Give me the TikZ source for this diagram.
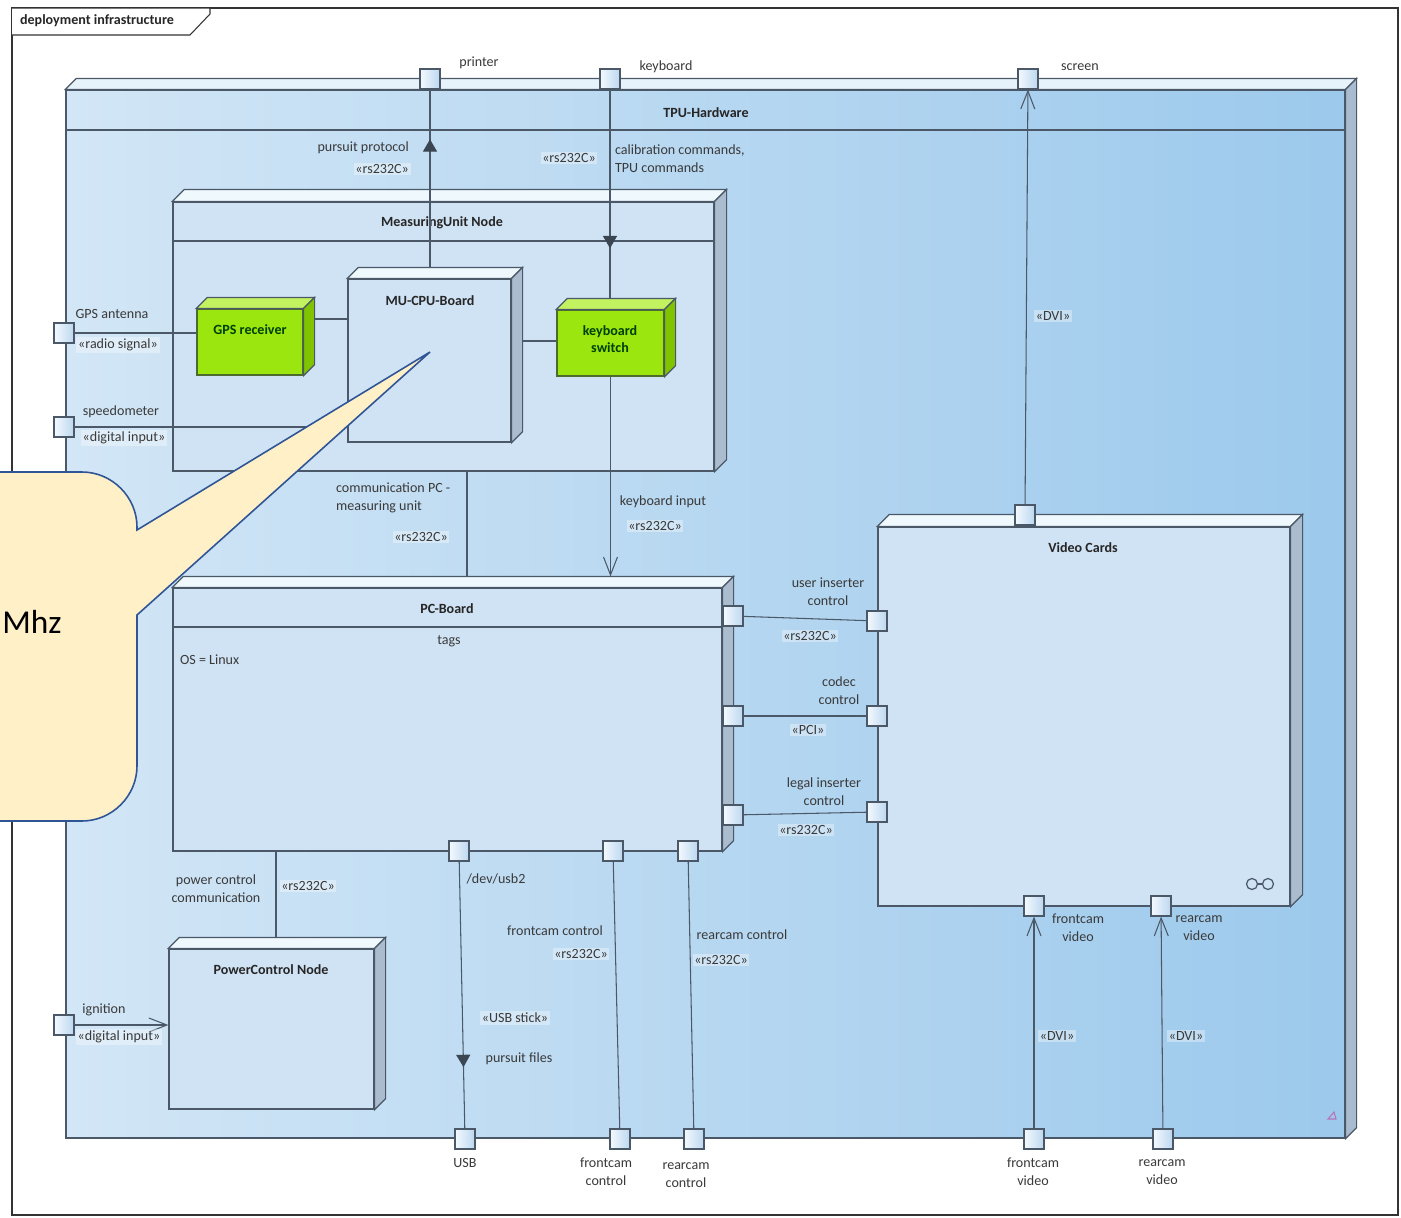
\documentclass[tikz,border=0pt]{standalone}
\usepackage{fontspec}
\setmainfont{Carlito}
\usetikzlibrary{arrows.meta,fit,decorations.markings,calc}
\definecolor{lnc}{HTML}{4A5868}
\definecolor{txtc}{HTML}{3A3A3A}
\definecolor{tpuL}{HTML}{D2E6F6}
\definecolor{tpuR}{HTML}{9CC9EC}
\definecolor{tputop}{HTML}{E6F3FB}
\definecolor{tpuside}{HTML}{A9BCCF}
\definecolor{boxf}{HTML}{D0E3F4}
\definecolor{boxtop}{HTML}{EEF8FD}
\definecolor{boxside}{HTML}{AABCCD}
\definecolor{grf}{HTML}{9BE60E}
\definecolor{grtop}{HTML}{C2F260}
\definecolor{grside}{HTML}{80C400}
\definecolor{grln}{HTML}{4D6B2E}
\definecolor{portL}{HTML}{F4F9FE}
\definecolor{portR}{HTML}{BCD7F0}
\definecolor{callf}{HTML}{FFF0C8}
\definecolor{calld}{HTML}{2F5597}
\newcommand{\threedbox}[4]{%
  \path[draw=lnc,line width=0.7pt,fill=#3] (#1.north west) -- ([shift={(#2,-#2)}]#1.north west) -- ([shift={(#2,-#2)}]#1.north east) -- (#1.north east) -- cycle;
  \path[draw=lnc,line width=0.7pt,fill=#4] (#1.north east) -- ([shift={(#2,-#2)}]#1.north east) -- ([shift={(#2,-#2)}]#1.south east) -- (#1.south east) -- cycle;
  \coordinate (#1T) at ([shift={(#2,-#2)}]#1.north);
  \coordinate (#1R) at ([shift={(#2,-#2)}]#1.east);}
\begin{document}
\begin{tikzpicture}[x=0.02cm,y=-0.02cm,
  font=\fontsize{8}{10.2}\selectfont,
  lbl/.style={text=txtc,inner sep=1pt,align=center},
  stl/.style={text=txtc,inner sep=1pt,align=center,fill=white,fill opacity=0.35,text opacity=1},
  ttl/.style={text=black!85,inner sep=1pt,align=center,font=\fontsize{8}{10}\selectfont\bfseries},
  box/.style={draw=lnc,line width=0.7pt,fill=boxf,inner sep=0pt},
  gbox/.style={draw=grln,line width=0.7pt,fill=grf,inner sep=0pt},
  port/.style={draw=lnc,line width=0.6pt,minimum size=0.4cm,inner sep=0pt,left color=portL,right color=portR},
  conn/.style={draw=lnc,line width=0.6pt},
  openarr/.style={-{Straight Barb[length=0.36cm,width=0.28cm,line width=0.6pt]}},
  dirmark/.style={postaction={decorate,decoration={markings,mark=at position #1 with {\arrow[lnc!80!black]{Triangle[length=7pt,width=8pt]}}}}}
]
\useasboundingbox (0,0) rectangle (1401,1218);
\clip (0,0) rectangle (1401,1218);
\fill[white] (0,0) rectangle (1401,1218);

% frame
\node[fit={(12,8)(1398,1215)},draw=black!80,line width=0.6pt,inner sep=0pt] (frame) {};
\draw[black!80,line width=0.6pt,fill=white] (12,8) -- (210,8) -- (210,14) -- (190,35) -- (12,35);
\node[ttl,anchor=west] (framelbl) at (18,21) {deployment infrastructure};

% TPU-Hardware
\node[fit={(66,90)(1345,1138)},draw=lnc,line width=0.7pt,inner sep=0pt,shading=axis,left color=tpuL,right color=tpuR] (tpu) {};
\threedbox{tpu}{11}{tputop}{tpuside}
\draw[lnc,line width=0.7pt] (tpu.west |- 0,130) -- (tpu.east |- 0,130);
\node[ttl] (tputitle) at (706,113) {TPU-Hardware};

% MeasuringUnit Node
\node[fit={(173,202)(714,471)},box] (mun) {};
\threedbox{mun}{12}{boxtop}{boxside}
\draw[lnc,line width=0.7pt] (mun.west |- 0,241) -- (mun.east |- 0,241);
\node[ttl] (muntitle) at (442,223) {MeasuringUnit Node};

% MU-CPU-Board
\node[fit={(348,279)(511,442)},box] (mucpu) {};
\threedbox{mucpu}{11}{boxtop}{boxside}
\node[ttl] (mucputitle) at (430,301) {MU-CPU-Board};

% GPS receiver
\node[fit={(197,309)(303,375)},gbox] (gps) {};
\threedbox{gps}{11}{grtop}{grside}
\node[ttl,text=black!75!green] (gpstitle) at (250,330) {GPS receiver};

% keyboard switch
\node[fit={(557,310)(664,376)},gbox] (ks) {};
\threedbox{ks}{11}{grtop}{grside}
\node[ttl,text=black!75!green] (kstitle) at (610,339) {keyboard\\switch};

% PC-Board
\node[fit={(173,588)(722,851)},box] (pcb) {};
\threedbox{pcb}{11}{boxtop}{boxside}
\draw[lnc,line width=0.7pt] (pcb.west |- 0,627) -- (pcb.east |- 0,627);
\node[ttl] (pcbtitle) at (447,609) {PC-Board};
\node[lbl] (tags) at (449,641) {tags};
\node[lbl,anchor=west] (oslinux) at (178,660) {OS = Linux};

% PowerControl Node
\node[fit={(169,949)(374,1109)},box] (pwc) {};
\threedbox{pwc}{11}{boxtop}{boxside}
\node[ttl] (pwctitle) at (271,970) {PowerControl Node};

% Video Cards
\node[fit={(878,527)(1290,906)},box] (vc) {};
\threedbox{vc}{12}{boxtop}{boxside}
\node[ttl] (vctitle) at (1083,548) {Video Cards};
\draw[lnc,line width=0.7pt] (1252,884) circle[radius=0.11cm] (1268,884) circle[radius=0.11cm];
\draw[lnc,line width=0.7pt] (1257,884) -- (1263,884);

% ports
\node[port] (printer) at (430,79) {};
\node[port] (kbd) at (610,79) {};
\node[port] (screen) at (1028,79) {};
\node[port] (gpsant) at (64,333) {};
\node[port] (speedo) at (64,427) {};
\node[port] (ign) at (64,1025) {};
\node[port] (usb) at (465,1139) {};
\node[port] (fcc) at (620,1139) {};
\node[port] (rcc) at (694,1139) {};
\node[port] (fcv) at (1034,1139) {};
\node[port] (rcv) at (1163,1139) {};
\node[port] (pcr1) at (733,616) {};
\node[port] (pcr2) at (733,716) {};
\node[port] (pcr3) at (733,815) {};
\node[port] (pcb1) at (459,851) {};
\node[port] (pcb2) at (613,851) {};
\node[port] (pcb3) at (688,851) {};
\node[port] (vcl1) at (877,621) {};
\node[port] (vcl2) at (877,716) {};
\node[port] (vcl3) at (877,812) {};
\node[port] (vct) at (1025,515) {};
\node[port] (vcb1) at (1034,906) {};
\node[port] (vcb2) at (1161,906) {};

% connectors
\draw[conn,dirmark=0.72] (printer |- mucpuT) -- (printer.south);
\draw[conn,dirmark=0.76] (kbd.south) -- (kbd |- ksT);
\draw[conn] (gpsant.east) -- (gpsant.east -| gps.west);
\draw[conn] (gpsR |- 0,319) -- (mucpu.west |- 0,319);
\draw[conn] (mucpuR |- 0,341) -- (ks.west |- 0,341);
\draw[conn] (speedo.east) -- (speedo.east -| mucpu.west);
\draw[conn,openarr] (ks.south) -- (ks.south |- pcbT);
\coordinate (cpm) at (467,0);
\draw[conn] (mun.south -| cpm) -- (pcbT -| cpm);
\draw[conn,openarr] (vct) -- (screen);
\draw[conn] (pcr1) -- (vcl1);
\draw[conn] (pcr2) -- (vcl2);
\draw[conn] (pcr3) -- (vcl3);
\draw[conn,dirmark=0.77] (pcb1) -- (usb);
\draw[conn] (pcb2) -- (fcc);
\draw[conn] (pcb3) -- (rcc);
\draw[conn,openarr] (fcv) -- (vcb1);
\draw[conn,openarr] (rcv) -- (vcb2);
\coordinate (cpw) at (276,0);
\draw[conn] (pcb.south -| cpw) -- (pwcT -| cpw);
\draw[conn,openarr] (ign.east) -- (ign.east -| pwc.west);

% labels
\node[lbl] (lprinter) at (479,63) {printer};
\node[lbl] (lkbd) at (666,67) {keyboard};
\node[lbl] (lscreen) at (1080,67) {screen};
\node[lbl,anchor=east] (lpp) at (411,148) {pursuit protocol};
\node[stl,anchor=east] (lpp2) at (411,169) {«rs232C»};
\node[stl] (lkb1) at (569,158) {«rs232C»};
\node[lbl,anchor=north west,align=left] (lcal) at (613,143) {calibration commands,\\TPU commands};
\node[lbl] (lgps1) at (112,314) {GPS antenna};
\node[stl] (lgps2) at (118,345) {«radio signal»};
\node[lbl] (lspd1) at (121,412) {speedometer};
\node[stl] (lspd2) at (124,438) {«digital input»};
\node[stl] (ldvi1) at (1053,316) {«DVI»};
\node[lbl,anchor=north west,align=left] (lcom) at (334,481) {communication PC -\\measuring unit};
\node[stl] (lcom2) at (421,537) {«rs232C»};
\node[lbl] (lki1) at (663,502) {keyboard input};
\node[stl] (lki2) at (655,526) {«rs232C»};
\node[lbl] (lui) at (828,592) {user inserter\\control};
\node[stl] (lui2) at (810,636) {«rs232C»};
\node[lbl] (lcc) at (839,691) {codec\\control};
\node[stl] (lcc2) at (808,730) {«PCI»};
\node[lbl] (lli) at (824,792) {legal inserter\\control};
\node[stl] (lli2) at (806,830) {«rs232C»};
\node[lbl] (lpc1) at (216,889) {power control\\communication};
\node[stl] (lpc2) at (308,886) {«rs232C»};
\node[lbl] (lusb1) at (496,879) {/dev/usb2};
\node[lbl] (lfc1) at (555,931) {frontcam control};
\node[stl] (lfc2) at (581,954) {«rs232C»};
\node[lbl] (lrc1) at (742,935) {rearcam control};
\node[stl] (lrc2) at (721,960) {«rs232C»};
\node[lbl] (lfv) at (1078,928) {frontcam\\video};
\node[lbl] (lrv) at (1199,928) {rearcam\\video};
\node[lbl] (lign1) at (104,1010) {ignition};
\node[stl] (lign2) at (119,1037) {«digital input»};
\node[stl] (lusb2) at (515,1018) {«USB stick»};
\node[lbl] (lusb3) at (519,1059) {pursuit files};
\node[stl] (ldvi2) at (1057,1036) {«DVI»};
\node[stl] (ldvi3) at (1186,1036) {«DVI»};
\node[lbl] (lusb) at (465,1163) {USB};
\node[lbl] (lfcc) at (606,1172) {frontcam\\control};
\node[lbl] (lrcc) at (686,1175) {rearcam\\control};
\node[lbl] (lfcv) at (1033,1172) {frontcam\\video};
\node[lbl] (lrcv) at (1162,1172) {rearcam\\video};

% small marker
\draw[violet!55,line width=0.6pt] (1328,1119) -- (1334,1112) -- (1336,1119) -- cycle;

% callout
\draw[calld,line width=0.9pt,fill=callf]
  (-100,472) -- (82,472) .. controls (112,472) and (137,497) .. (137,527)
  -- (137,530) -- (430,352) -- (137,615) -- (137,766)
  .. controls (137,796) and (112,821) .. (82,821) -- (-100,821) -- cycle;
\node[anchor=base west,inner sep=0pt,font=\fontsize{19}{23}\selectfont,text=black] (mhz) at (2,633) {Mhz};
\end{tikzpicture}
\end{document}
